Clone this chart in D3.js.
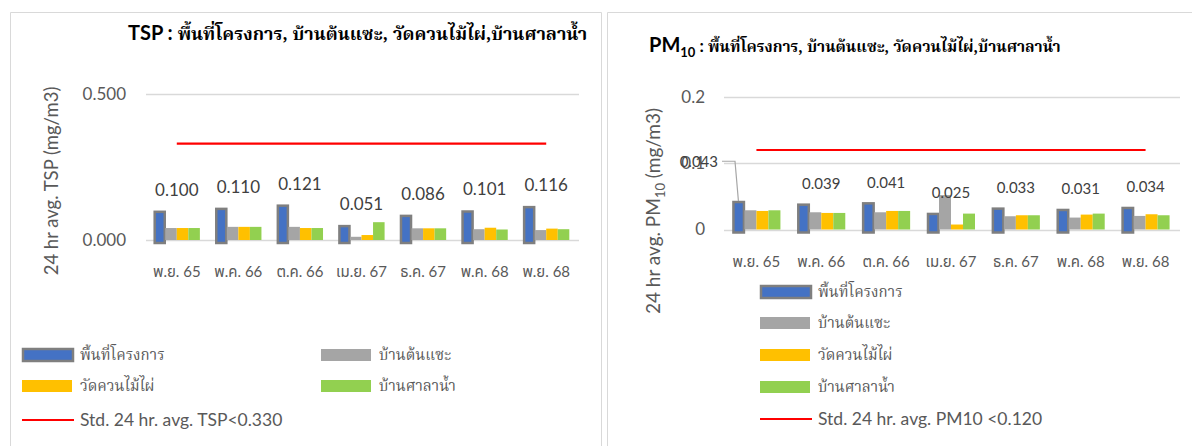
<html>
<head>
<script src="https://d3js.org/d3.v7.min.js"></script>
<style>
body { margin: 0; background: #fff; font-family: Lato, 'Open Sans', sans-serif; }
svg { display: block; }
.thai { font-family: 'Noto Serif Thai', 'Noto Sans Thai Looped', 'Noto Sans Thai', 'Loma', 'Garuda', 'Norasi', 'Noto Sans', sans-serif; }
.thaisans { font-family: Lato, 'Noto Sans Thai', 'Loma', 'Garuda', 'Noto Sans', sans-serif; }
</style>
</head>
<body>
<div id="chart"></div>
<script>
// categories and series
var months = ["พ.ย. 65", "พ.ค. 66", "ต.ค. 66", "เม.ย. 67", "ธ.ค. 67", "พ.ค. 68", "พ.ย. 68"];
var stations = ["พื้นที่โครงการ", "บ้านต้นแซะ", "วัดควนไม้ไผ่", "บ้านศาลาน้ำ"];
var colors = ["#4472C4", "#A5A5A5", "#FFC000", "#92D050"];

// TSP (mg/m3)
var tspSite   = [0.100, 0.110, 0.121, 0.051, 0.086, 0.101, 0.116];
var tspTonsae = [0.041, 0.045, 0.045, 0.011, 0.040, 0.037, 0.034];
var tspWat    = [0.041, 0.045, 0.041, 0.017, 0.040, 0.042, 0.039];
var tspSala   = [0.041, 0.045, 0.041, 0.061, 0.040, 0.036, 0.037];
var tspStd = 0.330;
var tspTicks = [0, 0.5];

// PM10 (mg/m3)
var pmSite   = [0.043, 0.039, 0.041, 0.025, 0.033, 0.031, 0.034];
var pmTonsae = [0.029, 0.026, 0.026, 0.052, 0.020, 0.018, 0.0205];
var pmWat    = [0.028, 0.025, 0.028, 0.0075, 0.0215, 0.0225, 0.023];
var pmSala   = [0.029, 0.025, 0.028, 0.024, 0.0215, 0.024, 0.0215];
var pmStd = 0.120;
var pmTicks = [0, 0.1, 0.2];

var svg = d3.select("#chart").append("svg").attr("width", 1192).attr("height", 446);

// panel frames
svg.append("path").attr("d", "M10.5,446 V12.5 H601.5 V446").attr("fill", "none").attr("stroke", "#d9d9d9");
svg.append("path").attr("d", "M607.5,446 V12.5 H1192").attr("fill", "none").attr("stroke", "#d9d9d9");

function drawChart(c) {
  var g = svg.append("g");
  var x = d3.scaleBand().domain(months).range([c.x0, c.x1]).paddingInner(c.pad).paddingOuter(c.pad / 2);
  var xs = d3.scaleBand().domain(d3.range(4)).range([0, x.bandwidth()]);
  var y = d3.scaleLinear().domain(c.domain).range([c.yBase, c.yTop]);

  // gridlines
  g.selectAll(".grid").data(c.ticks).enter().append("line")
    .attr("x1", c.x0).attr("x2", c.x1 + 2)
    .attr("y1", function(d) { return Math.round(y(d)) + 0.5; })
    .attr("y2", function(d) { return Math.round(y(d)) + 0.5; })
    .attr("stroke", "#d9d9d9").attr("stroke-width", 1.5);

  // tick labels
  g.selectAll(".tick").data(c.ticks).enter().append("text")
    .attr("x", c.x0 - c.tickGap).attr("y", function(d) { return y(d); })
    .attr("dy", "0.35em").attr("text-anchor", "end")
    .attr("font-size", c.tickSize).attr("fill", "#595959")
    .text(c.fmt);

  // bars
  var rows = months.map(function(m, i) {
    return c.values.map(function(s) { return s[i]; });
  });
  var grp = g.selectAll(".grp").data(rows).enter().append("g")
    .attr("transform", function(d, i) { return "translate(" + x(months[i]) + ",0)"; });
  grp.selectAll("rect").data(function(d) { return d; }).enter().append("rect")
    .attr("x", function(d, j) { return xs(j) + (j == 0 ? 1 : 0); })
    .attr("width", function(d, j) { return xs.bandwidth() - (j == 0 ? 1.5 : 0); })
    .attr("y", function(d, j) { return y(d) + (j == 0 ? 1 : 0); })
    .attr("height", function(d, j) { return y(0) - y(d) + (j == 0 ? 2 : 0); })
    .attr("fill", function(d, j) { return colors[j]; })
    .attr("stroke", function(d, j) { return j == 0 ? "#7f7f7f" : "none"; })
    .attr("stroke-width", 2.5);

  // standard line
  g.append("line")
    .attr("x1", x(months[0]) + x.bandwidth() / 2)
    .attr("x2", x(months[months.length - 1]) + x.bandwidth() / 2)
    .attr("y1", y(c.std)).attr("y2", y(c.std))
    .attr("stroke", "#ff0000").attr("stroke-width", 2.2);

  // data labels of project site
  c.values[0].forEach(function(v, i) {
    var cx = x(months[i]) + x.bandwidth() / 2;
    if (c.moveFirst && i == 0) {
      // first label was dragged onto the axis in the original, with a leader line
      var lx = c.x0 - 6, ly = y(0.1) - 2;
      g.append("polyline")
        .attr("points", [[c.x0 - 2, ly], [c.x0 + 11, ly], [x(months[0]) + xs.bandwidth() / 2, y(v)]].join(" "))
        .attr("fill", "none").attr("stroke", "#a6a6a6").attr("stroke-width", 1.2);
      g.append("text").attr("x", lx).attr("y", ly).attr("dy", "0.35em")
        .attr("text-anchor", "end").attr("font-size", c.labelSize).attr("fill", "#404040")
        .text(d3.format(".3f")(v));
      return;
    }
    g.append("text").attr("x", cx).attr("y", y(v) - c.labelGap).attr("dy", "0.35em")
      .attr("text-anchor", "middle").attr("font-size", c.labelSize).attr("fill", "#404040")
      .text(d3.format(".3f")(v));
  });

  // month labels
  g.selectAll(".mlab").data(months).enter().append("text")
    .attr("class", "thaisans")
    .attr("x", function(d) { return x(d) + x.bandwidth() / 2; })
    .attr("y", c.monthY).attr("dy", "0.35em").attr("text-anchor", "middle")
    .attr("font-size", 15).attr("fill", "#595959")
    .text(function(d) { return d; });

  return g;
}

// ---- TSP chart
var left = drawChart({
  x0: 146, x1: 577, pad: 0.25, domain: [0, 0.5], yBase: 240, yTop: 94,
  ticks: tspTicks, fmt: d3.format(".3f"), tickGap: 20, tickSize: 17,
  values: [tspSite, tspTonsae, tspWat, tspSala], std: tspStd,
  labelGap: 21, labelSize: 17, monthY: 272
});

left.append("text").attr("transform", "translate(58,181) rotate(-90)")
  .attr("text-anchor", "middle").attr("font-size", 18.5).attr("fill", "#595959")
  .text("24 hr avg. TSP (mg/m3)");

var t1 = left.append("text").attr("x", 128).attr("y", 40).attr("fill", "#000").attr("font-weight", "bold");
t1.append("tspan").attr("font-size", 20).text("TSP : ");
t1.append("tspan").attr("class", "thai").attr("font-size", 18).text("พื้นที่โครงการ, บ้านต้นแซะ, วัดควนไม้ไผ่,บ้านศาลาน้ำ");

// ---- PM10 chart
var right = drawChart({
  x0: 724, x1: 1178, pad: 0.26, domain: [0, 0.2], yBase: 229.5, yTop: 97,
  ticks: pmTicks, fmt: d3.format(""), tickGap: 19, tickSize: 17,
  values: [pmSite, pmTonsae, pmWat, pmSala], std: pmStd,
  labelGap: 20, labelSize: 15, monthY: 262, moveFirst: true
});

var yt = right.append("text").attr("transform", "translate(660,211) rotate(-90)")
  .attr("text-anchor", "middle").attr("font-size", 19).attr("fill", "#595959");
yt.append("tspan").text("24 hr avg. PM");
yt.append("tspan").attr("font-size", 13).attr("dy", 5).text("10");
yt.append("tspan").attr("dy", -5).text(" (mg/m3)");

var t2 = right.append("text").attr("x", 649).attr("y", 52).attr("fill", "#000").attr("font-weight", "bold");
t2.append("tspan").attr("font-size", 20).text("PM");
t2.append("tspan").attr("font-size", 13).attr("dy", 5).text("10");
t2.append("tspan").attr("font-size", 17).attr("dy", -5).text(" : ");
t2.append("tspan").attr("class", "thai").attr("font-size", 15.5).text("พื้นที่โครงการ, บ้านต้นแซะ, วัดควนไม้ไผ่,บ้านศาลาน้ำ");

// ---- legends
function swatch(g, sx, sy, i) {
  g.append("rect").attr("x", sx + (i == 0 ? 1 : 0)).attr("y", sy - 6)
    .attr("width", 50).attr("height", 12).attr("fill", colors[i])
    .attr("stroke", i == 0 ? "#7f7f7f" : "none").attr("stroke-width", 2.5);
  g.append("text").attr("class", "thai").attr("x", sx + 58).attr("y", sy).attr("dy", "0.35em")
    .attr("font-size", 15).attr("fill", "#595959").text(stations[i]);
}
function stdItem(g, sx, sy, label) {
  g.append("line").attr("x1", sx).attr("x2", sx + 52).attr("y1", sy).attr("y2", sy)
    .attr("stroke", "#ff0000").attr("stroke-width", 2.2);
  g.append("text").attr("x", sx + 58).attr("y", sy).attr("dy", "0.35em")
    .attr("font-size", 17.5).attr("fill", "#595959").text(label);
}

[[22, 355], [321, 355], [22, 386], [321, 386]].forEach(function(p, i) { swatch(left, p[0], p[1], i); });
stdItem(left, 22, 420, "Std. 24 hr. avg. TSP<" + d3.format(".3f")(tspStd));

[292, 323, 355, 387].forEach(function(py, i) { swatch(right, 760, py, i); });
stdItem(right, 760, 419, "Std. 24 hr. avg. PM10 <" + d3.format(".3f")(pmStd));
</script>
</body>
</html>
